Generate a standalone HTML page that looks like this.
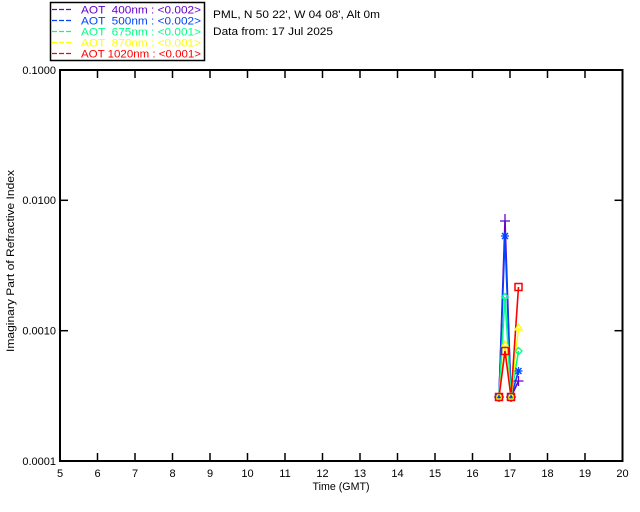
<!DOCTYPE html>
<html>
<head>
<meta charset="utf-8">
<style>
html,body{margin:0;padding:0;background:#fff;}
svg{display:block;}
text{font-family:"Liberation Sans",sans-serif;font-size:11px;fill:#000;white-space:pre;}
</style>
</head>
<body>
<svg width="640" height="512" viewBox="0 0 640 512" xmlns="http://www.w3.org/2000/svg">
<rect x="0" y="0" width="640" height="512" fill="#fff"/>

<!-- Legend box -->
<rect x="50.5" y="2.5" width="154" height="58" fill="#fff" stroke="#000" stroke-width="1.5"/>
<g stroke-width="1.2" stroke-dasharray="5,2">
<line x1="52" y1="9.5" x2="72" y2="9.5" stroke="#6600cc"/>
<line x1="52" y1="20.5" x2="72" y2="20.5" stroke="#0044ff"/>
<line x1="52" y1="31.5" x2="72" y2="31.5" stroke="#00ff88"/>
<line x1="52" y1="42.5" x2="72" y2="42.5" stroke="#ffff00"/>
<line x1="52" y1="53.5" x2="72" y2="53.5" stroke="#ff0000"/>
</g>
<text x="81" y="13.5" textLength="120" lengthAdjust="spacingAndGlyphs" style="fill:#6600cc">AOT  400nm : &lt;0.002&gt;</text>
<text x="81" y="24.5" textLength="120" lengthAdjust="spacingAndGlyphs" style="fill:#0044ff">AOT  500nm : &lt;0.002&gt;</text>
<text x="81" y="35.5" textLength="120" lengthAdjust="spacingAndGlyphs" style="fill:#00ff88">AOT  675nm : &lt;0.001&gt;</text>
<text x="81" y="46.5" textLength="120" lengthAdjust="spacingAndGlyphs" style="fill:#ffff00">AOT  870nm : &lt;0.001&gt;</text>
<text x="81" y="57.5" textLength="120" lengthAdjust="spacingAndGlyphs" style="fill:#ff0000">AOT 1020nm : &lt;0.001&gt;</text>

<!-- Title text -->
<text x="213" y="18" textLength="167" lengthAdjust="spacingAndGlyphs">PML, N 50 22', W 04 08', Alt 0m</text>
<text x="213" y="35" textLength="120" lengthAdjust="spacingAndGlyphs">Data from: 17 Jul 2025</text>

<!-- Axes box -->
<rect x="60" y="70" width="562.5" height="391" fill="none" stroke="#000" stroke-width="2"/>

<!-- X ticks -->
<g stroke="#000" stroke-width="1.5">
<line x1="97.5" y1="461" x2="97.5" y2="453"/><line x1="97.5" y1="70" x2="97.5" y2="78"/>
<line x1="135" y1="461" x2="135" y2="453"/><line x1="135" y1="70" x2="135" y2="78"/>
<line x1="172.5" y1="461" x2="172.5" y2="453"/><line x1="172.5" y1="70" x2="172.5" y2="78"/>
<line x1="210" y1="461" x2="210" y2="453"/><line x1="210" y1="70" x2="210" y2="78"/>
<line x1="247.5" y1="461" x2="247.5" y2="453"/><line x1="247.5" y1="70" x2="247.5" y2="78"/>
<line x1="285" y1="461" x2="285" y2="453"/><line x1="285" y1="70" x2="285" y2="78"/>
<line x1="322.5" y1="461" x2="322.5" y2="453"/><line x1="322.5" y1="70" x2="322.5" y2="78"/>
<line x1="360" y1="461" x2="360" y2="453"/><line x1="360" y1="70" x2="360" y2="78"/>
<line x1="397.5" y1="461" x2="397.5" y2="453"/><line x1="397.5" y1="70" x2="397.5" y2="78"/>
<line x1="435" y1="461" x2="435" y2="453"/><line x1="435" y1="70" x2="435" y2="78"/>
<line x1="472.5" y1="461" x2="472.5" y2="453"/><line x1="472.5" y1="70" x2="472.5" y2="78"/>
<line x1="510" y1="461" x2="510" y2="453"/><line x1="510" y1="70" x2="510" y2="78"/>
<line x1="547.5" y1="461" x2="547.5" y2="453"/><line x1="547.5" y1="70" x2="547.5" y2="78"/>
<line x1="585" y1="461" x2="585" y2="453"/><line x1="585" y1="70" x2="585" y2="78"/>
<!-- Y ticks -->
<line x1="60" y1="200.3" x2="68" y2="200.3"/><line x1="622.5" y1="200.3" x2="614.5" y2="200.3"/>
<line x1="60" y1="330.7" x2="68" y2="330.7"/><line x1="622.5" y1="330.7" x2="614.5" y2="330.7"/>
</g>

<!-- X tick labels -->
<g text-anchor="middle">
<text x="60" y="477">5</text>
<text x="97.5" y="477">6</text>
<text x="135" y="477">7</text>
<text x="172.5" y="477">8</text>
<text x="210" y="477">9</text>
<text x="247.5" y="477">10</text>
<text x="285" y="477">11</text>
<text x="322.5" y="477">12</text>
<text x="360" y="477">13</text>
<text x="397.5" y="477">14</text>
<text x="435" y="477">15</text>
<text x="472.5" y="477">16</text>
<text x="510" y="477">17</text>
<text x="547.5" y="477">18</text>
<text x="585" y="477">19</text>
<text x="622.5" y="477">20</text>
</g>
<!-- Y tick labels -->
<g text-anchor="end">
<text x="56" y="74">0.1000</text>
<text x="56" y="204">0.0100</text>
<text x="56" y="334.5">0.0010</text>
<text x="56" y="465">0.0001</text>
</g>

<!-- Axis labels -->
<text x="341" y="490" text-anchor="middle" textLength="57" lengthAdjust="spacingAndGlyphs">Time (GMT)</text>
<text transform="translate(14,261) rotate(-90)" text-anchor="middle" textLength="182" lengthAdjust="spacingAndGlyphs">Imaginary Part of Refractive Index</text>

<!-- Data series -->
<g fill="none" stroke-width="1.6">
<!-- 400nm -->
<polyline stroke="#6600cc" points="499,397 505,221 511,397 518.5,381"/>
<!-- 500nm -->
<polyline stroke="#0044ff" points="499,397 505,236 511,397 518.5,371"/>
<!-- 675nm -->
<polyline stroke="#00ff88" points="499,397 505,297 511,397 518.5,351"/>
<!-- 870nm -->
<polyline stroke="#ffff00" points="499,397 505,345 511,397 518.5,328"/>
<!-- 1020nm -->
<polyline stroke="#ff0000" points="499,397 505,351 511,397 518.5,287"/>
</g>

<!-- Markers -->
<g fill="none" stroke-width="1.3">
<!-- 400 plus -->
<g stroke="#6600cc">
<path d="M494,397h10M499,392v10"/>
<path d="M500,221h10M505,214v14"/>
<path d="M506,397h10M511,392v10"/>
<path d="M513.5,381h10M518.5,376v10"/>
</g>
<!-- 500 asterisk -->
<g stroke="#0044ff">
<path d="M495,397h8M499,393v8M496,394l6,6M502,394l-6,6"/>
<path d="M501,236h8M505,232v8M502,233l6,6M508,233l-6,6"/>
<path d="M507,397h8M511,393v8M508,394l6,6M514,394l-6,6"/>
<path d="M514.5,371h8M518.5,367v8M515.5,368l6,6M521.5,368l-6,6"/>
</g>
<!-- 675 diamond -->
<g stroke="#00ff88">
<path d="M499,393.5l3.5,3.5l-3.5,3.5l-3.5,-3.5z"/>
<path d="M505,293.5l3.5,3.5l-3.5,3.5l-3.5,-3.5z"/>
<path d="M511,393.5l3.5,3.5l-3.5,3.5l-3.5,-3.5z"/>
<path d="M518.5,347.5l3.5,3.5l-3.5,3.5l-3.5,-3.5z"/>
</g>
<!-- 870 triangle -->
<g stroke="#ffff00">
<path d="M499,393l3.5,6h-7z"/>
<path d="M505,341l3.5,6h-7z"/>
<path d="M511,393l3.5,6h-7z"/>
<path d="M518.5,324l3.5,6h-7z"/>
</g>
<!-- 1020 square -->
<g stroke="#ff0000" stroke-width="1.5">
<rect x="495.5" y="393.5" width="7" height="7"/>
<rect x="501.5" y="347.5" width="7" height="7"/>
<rect x="507.5" y="393.5" width="7" height="7"/>
<rect x="515" y="283.5" width="7" height="7"/>
</g>
</g>
</svg>
</body>
</html>
